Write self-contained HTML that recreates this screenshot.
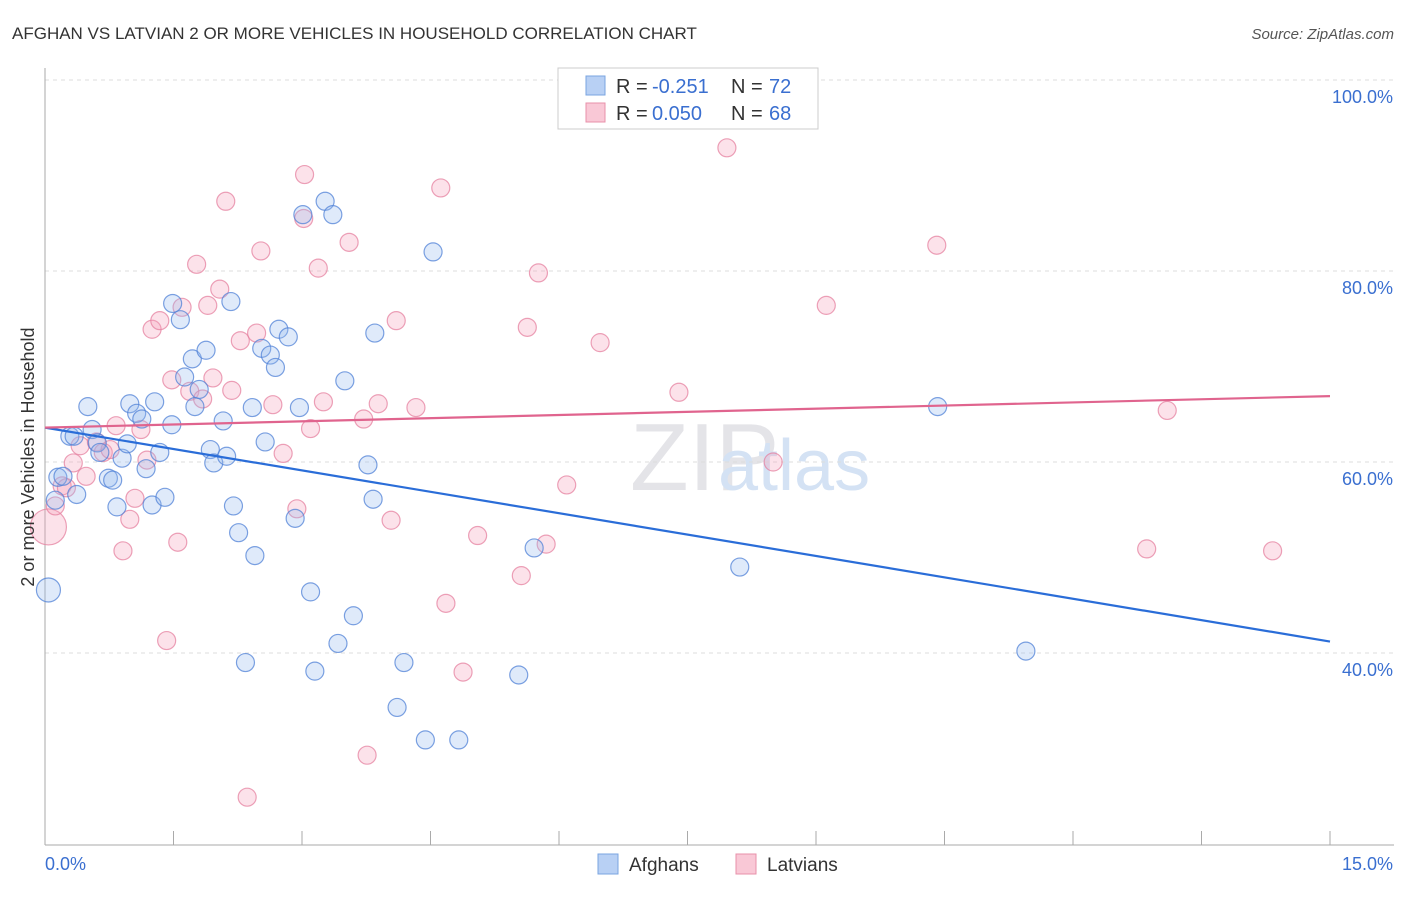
<!DOCTYPE html>
<html><head><meta charset="utf-8"><style>
body{margin:0;background:#fff;font-family:"Liberation Sans",sans-serif;}
svg text{font-family:"Liberation Sans",sans-serif;}
</style></head><body>
<svg id="chart" width="1406" height="892" xmlns="http://www.w3.org/2000/svg">
<text x="12" y="39" font-size="17" fill="#333">AFGHAN VS LATVIAN 2 OR MORE VEHICLES IN HOUSEHOLD CORRELATION CHART</text>
<text x="1394" y="39" font-size="15" fill="#555" font-style="italic" text-anchor="end">Source: ZipAtlas.com</text>
<text x="630" y="490" font-size="96" fill="#e4e4e8" font-family="Liberation Serif">ZIP</text>
<text x="718" y="490" font-size="72" fill="#d4e2f4">atlas</text>
<g id="grid"></g><g id="axes"></g><g id="pts"></g><g id="lines"></g>
<text transform="translate(34,457) rotate(-90)" font-size="18" fill="#333" text-anchor="middle">2 or more Vehicles in Household</text>
<g>
<rect x="558" y="68" width="260" height="61" fill="#fff" stroke="#ccc"/>
<rect x="586" y="76" width="19" height="19" fill="#b8d0f4" stroke="#7aa4e0"/>
<text x="616" y="93" font-size="20" fill="#333">R =</text>
<text x="652" y="93" font-size="20" fill="#3a6fd0">-0.251</text>
<text x="731" y="93" font-size="20" fill="#333">N =</text>
<text x="769" y="93" font-size="20" fill="#3a6fd0">72</text>
<rect x="586" y="103" width="19" height="19" fill="#f9c8d6" stroke="#e890aa"/>
<text x="616" y="120" font-size="20" fill="#333">R =</text>
<text x="652" y="120" font-size="20" fill="#3a6fd0">0.050</text>
<text x="731" y="120" font-size="20" fill="#333">N =</text>
<text x="769" y="120" font-size="20" fill="#3a6fd0">68</text>
</g>
<g>
<rect x="598" y="854" width="20" height="20" fill="#b8d0f4" stroke="#7aa4e0"/>
<text x="629" y="871" font-size="19" fill="#333">Afghans</text>
<rect x="736" y="854" width="20" height="20" fill="#f9c8d6" stroke="#e890aa"/>
<text x="767" y="871" font-size="19" fill="#333">Latvians</text>
</g>
</svg>
<script>
const xTicks=[0,1.5,3,4.5,6,7.5,9,10.5,12,13.5,15];
const yTicks=[40,60,80,100];
const yTickLabels=["40.0%","60.0%","80.0%","100.0%"];
const xTickLabels=["0.0%","15.0%"];
const afghanX=[0.04,0.12,0.15,0.21,0.37,0.29,0.34,0.50,0.55,0.61,0.64,0.74,0.79,0.84,0.90,0.96,0.99,1.07,1.13,1.18,1.25,1.28,1.34,1.40,1.48,1.49,1.58,1.63,1.72,1.75,1.80,1.88,1.93,1.97,2.08,2.12,2.17,2.20,2.26,2.34,2.42,2.45,2.53,2.57,2.63,2.69,2.73,2.84,2.92,2.97,3.01,3.10,3.15,3.27,3.36,3.42,3.50,3.60,3.77,3.83,3.85,4.11,4.19,4.44,4.53,4.83,5.53,5.71,8.11,10.42,11.45];
const afghanY=[46.6,56.0,58.4,58.5,56.6,62.7,62.7,65.8,63.4,62.0,61.0,58.3,58.1,55.3,60.4,61.9,66.1,65.1,64.5,59.3,55.5,66.3,61.0,56.3,63.9,76.6,74.9,68.9,70.8,65.8,67.6,71.7,61.3,59.9,64.3,60.6,76.8,55.4,52.6,39.0,65.7,50.2,71.9,62.1,71.2,69.9,73.9,73.1,54.1,65.7,85.9,46.4,38.1,87.3,85.9,41.0,68.5,43.9,59.7,56.1,73.5,34.3,39.0,30.9,82.0,30.9,37.7,51.0,49.0,65.8,40.2];
const latvianX=[0.04,0.12,0.20,0.25,0.33,0.41,0.48,0.60,0.68,0.76,0.83,0.91,0.99,1.05,1.12,1.19,1.25,1.34,1.42,1.48,1.55,1.60,1.69,1.77,1.84,1.90,1.96,2.04,2.11,2.18,2.28,2.36,2.47,2.52,2.66,2.78,2.94,3.03,3.02,3.10,3.19,3.25,3.55,3.72,3.76,3.89,4.04,4.10,4.33,4.68,4.62,4.88,5.05,5.56,5.63,5.76,5.85,6.09,6.48,7.40,7.96,8.50,9.12,10.41,12.86,13.10,14.33];
const latvianY=[53.2,55.4,57.5,57.3,59.9,61.7,58.5,62.1,61.0,61.3,63.8,50.7,54.0,56.2,63.4,60.2,73.9,74.8,41.3,68.6,51.6,76.2,67.4,80.7,66.6,76.4,68.8,78.1,87.3,67.5,72.7,24.9,73.5,82.1,66.0,60.9,55.1,90.1,85.5,63.5,80.3,66.3,83.0,64.5,29.3,66.1,53.9,74.8,65.7,45.2,88.7,38.0,52.3,48.1,74.1,79.8,51.4,57.6,72.5,67.3,92.9,60.0,76.4,82.7,50.9,65.4,50.7];
const afghanTrend=[63.6,41.2];
const latvianTrend=[63.6,66.9];
const NS="http://www.w3.org/2000/svg";
const X=v=>45+v*(1285/15);
const Y=v=>80+(100-v)*9.55;
function mk(t,a,p){const e=document.createElementNS(NS,t);for(const k in a)e.setAttribute(k,a[k]);document.getElementById(p).appendChild(e);return e;}
yTicks.forEach((t,i)=>{
 const g=mk('line',{x1:45,x2:1394,y1:Y(t),y2:Y(t),stroke:'#ddd','stroke-dasharray':'4,4'},'grid');
 
 
 const l=mk('text',{x:1393,y:Y(t)+23,'font-size':18,fill:'#3a6fd0','text-anchor':'end'},'axes');
 l.textContent=yTickLabels[i];
 
 
});
mk('line',{x1:45,x2:45,y1:68,y2:845,stroke:'#aaa'},'axes');
mk('line',{x1:45,x2:1394,y1:845,y2:845,stroke:'#aaa'},'axes');
xTicks.forEach(t=>{const e=mk('line',{x1:X(t),x2:X(t),y1:831,y2:845,stroke:'#aaa'},'axes');
 
 });
const xl0=mk('text',{x:45,y:870,'font-size':18,fill:'#3a6fd0'},'axes');xl0.textContent=xTickLabels[0];


const xl1=mk('text',{x:1393,y:870,'font-size':18,fill:'#3a6fd0','text-anchor':'end'},'axes');xl1.textContent=xTickLabels[1];


latvianX.forEach((x,i)=>{const c=mk('circle',{cx:X(x),cy:Y(latvianY[i]),r:i==0?18:9,fill:'rgba(244,160,186,0.3)',stroke:'rgba(230,130,160,0.75)','stroke-width':1.2},'pts');
 
 });
afghanX.forEach((x,i)=>{const c=mk('circle',{cx:X(x),cy:Y(afghanY[i]),r:i==0?12:9,fill:'rgba(150,185,240,0.3)',stroke:'rgba(80,130,215,0.75)','stroke-width':1.2},'pts');
 
 });
const t1=mk('line',{x1:X(0),x2:X(15),y1:Y(afghanTrend[0]),y2:Y(afghanTrend[1]),stroke:'#2a6dd8','stroke-width':2.2},'lines');


const t2=mk('line',{x1:X(0),x2:X(15),y1:Y(latvianTrend[0]),y2:Y(latvianTrend[1]),stroke:'#e0648e','stroke-width':2.2},'lines');


</script>
</body></html>
